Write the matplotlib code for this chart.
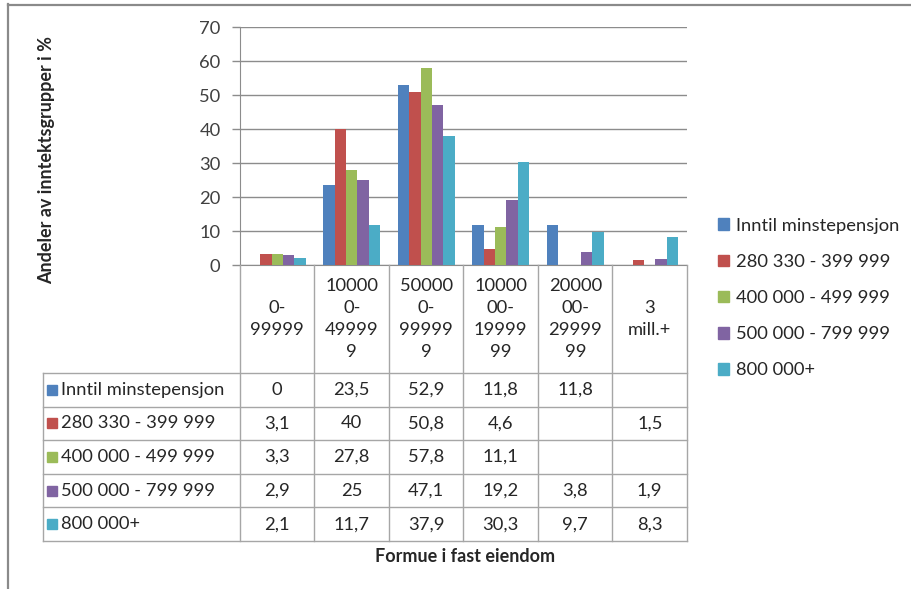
import matplotlib
matplotlib.use("Agg")
import matplotlib.pyplot as plt
from matplotlib.lines import Line2D
from matplotlib.patches import Rectangle
import numpy as np

plt.rcParams['font.family'] = ['Lato', 'DejaVu Sans']

categories = ["0-\n99999", "10000\n0-\n49999\n9", "50000\n0-\n99999\n9",
              "10000\n00-\n19999\n99", "20000\n00-\n29999\n99", "3\nmill.+"]
series_names = ["Inntil minstepensjon", "280 330 - 399 999", "400 000 - 499 999",
                "500 000 - 799 999", "800 000+"]
inntil = [0, 23.5, 52.9, 11.8, 11.8, None]
grp_280 = [3.1, 40, 50.8, 4.6, None, 1.5]
grp_400 = [3.3, 27.8, 57.8, 11.1, None, None]
grp_500 = [2.9, 25, 47.1, 19.2, 3.8, 1.9]
grp_800 = [2.1, 11.7, 37.9, 30.3, 9.7, 8.3]
series_values = [inntil, grp_280, grp_400, grp_500, grp_800]
colors = ["#4F81BD", "#C0504D", "#9BBB59", "#8064A2", "#4BACC6"]
y_ticks = [0, 10, 20, 30, 40, 50, 60, 70]

FS = 13.2
W, H = 912, 589
fig = plt.figure(figsize=(W / 100, H / 100), dpi=100)


def fx(x):
    return x / W


def fy(y):
    return 1 - y / H


def fline(x0, y0, x1, y1, color="#a6a6a6", lw=1.0):
    fig.add_artist(Line2D([fx(x0), fx(x1)], [fy(y0), fy(y1)], color=color, lw=lw))


# outer chart frame
fline(8, 4.5, W, 4.5, color="#8a8a8a", lw=1.6)
fline(8.5, 4, 8.5, H, color="#8a8a8a", lw=1.6)

# plot area
ax_l, ax_r, ax_t, ax_b = 240, 687, 27, 265
ax = fig.add_axes([fx(ax_l), fy(ax_b), (ax_r - ax_l) / W, (ax_b - ax_t) / H])
ax.set_xlim(0, len(categories))
ax.set_ylim(0, 70)

n = len(series_names)
bw = 1 / 6.5
for j, (vals, c) in enumerate(zip(series_values, colors)):
    xs, hs = [], []
    for i, v in enumerate(vals):
        if v is None:
            continue
        xs.append(i + 0.5 + (j - (n - 1) / 2) * bw)
        hs.append(v)
    ax.bar(xs, hs, width=bw, color=c, edgecolor="none", zorder=3, label=series_names[j])

ax.set_yticks(y_ticks)
ax.set_yticklabels([str(t) for t in y_ticks], fontsize=FS, color="#404040")
ax.yaxis.grid(True, color="#8c8c8c", lw=1.0, zorder=0)
ax.set_axisbelow(True)
ax.tick_params(axis="y", length=6, width=1, color="#8c8c8c", pad=8)
ax.tick_params(axis="x", length=0, labelbottom=False)
for s in ["top", "right"]:
    ax.spines[s].set_visible(False)
ax.spines["left"].set_color("#8c8c8c")
ax.spines["bottom"].set_color("#8c8c8c")
ax.patch.set_alpha(0)

# data table below the plot area
col_x = np.linspace(ax_l, ax_r, len(categories) + 1)
tbl_left = 43
head_bot = 373
row_h = 33.6
rows_y = [head_bot + k * row_h for k in range(n + 1)]

for x in col_x:
    fline(x, ax_b, x, rows_y[-1])
fline(tbl_left, rows_y[0], tbl_left, rows_y[-1])
for y in rows_y:
    fline(tbl_left, y, ax_r, y)

for i, lab in enumerate(categories):
    cx = (col_x[i] + col_x[i + 1]) / 2
    fig.text(fx(cx), fy((ax_b + head_bot) / 2), lab, ha="center", va="center",
             fontsize=FS, color="#262626", linespacing=1.45)

for j, name in enumerate(series_names):
    cy = (rows_y[j] + rows_y[j + 1]) / 2
    fig.add_artist(Rectangle((fx(47), fy(cy + 5)), 10 / W, 10 / H,
                             transform=fig.transFigure, color=colors[j]))
    fig.text(fx(61), fy(cy), name, ha="left", va="center", fontsize=FS, color="#262626")
    for i, v in enumerate(series_values[j]):
        if v is None:
            continue
        cx = (col_x[i] + col_x[i + 1]) / 2
        txt = f"{v:g}".replace(".", ",")
        fig.text(fx(cx), fy(cy), txt, ha="center", va="center", fontsize=FS, color="#262626")

# axis titles
fig.text(fx(465), fy(557), "Formue i fast eiendom", ha="center", va="center",
         fontsize=13, fontweight="bold", color="#262626")
fig.text(fx(47), fy(160), "Andeler av inntektsgrupper i %", ha="center", va="center",
         rotation=90, fontsize=13, fontweight="bold", color="#262626")

# legend
handles = [Rectangle((0, 0), 1, 1, color=c) for c in colors]
fig.legend(handles, series_names, loc="center left", bbox_to_anchor=(fx(702), fy(298)),
           frameon=False, fontsize=FS, handlelength=0.6, handleheight=0.6,
           handletextpad=0.35, labelspacing=1.1, labelcolor="#262626")

fig.savefig("out.png", dpi=100)
